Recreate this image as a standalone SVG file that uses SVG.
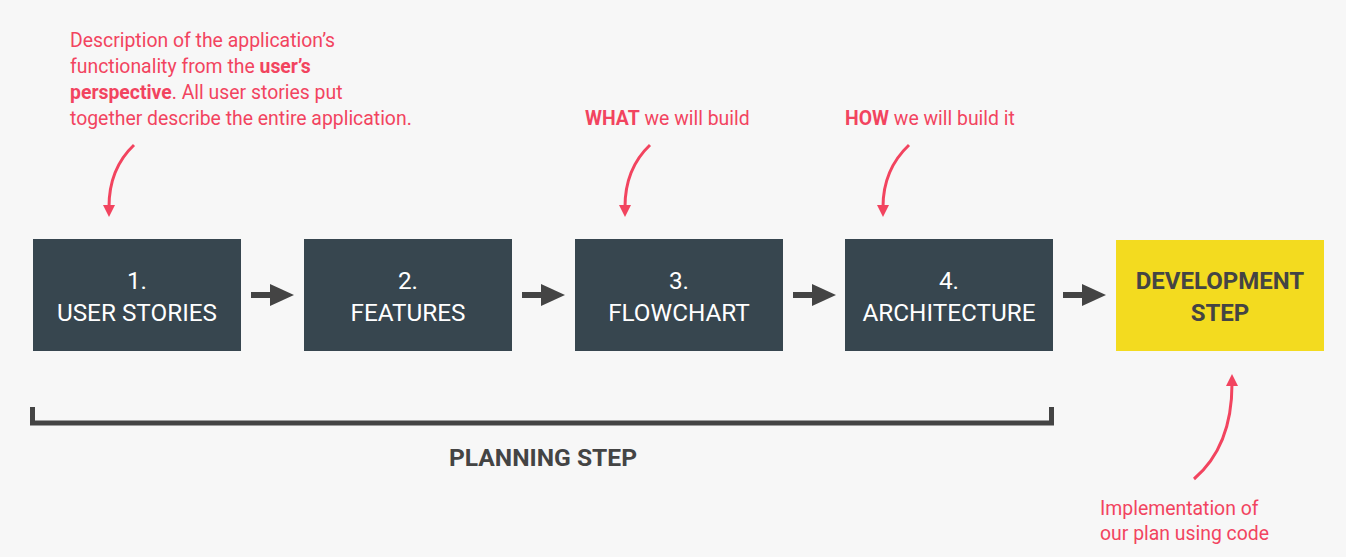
<svg xmlns="http://www.w3.org/2000/svg" width="1346" height="557" viewBox="0 0 1346 557">
<style>
.box{fill:#37464f;}
.bt{font-family:Roboto,"Liberation Sans",sans-serif;font-size:24.3px;fill:#ffffff;text-anchor:middle;}
.dt{font-family:Roboto,"Liberation Sans",sans-serif;font-size:24px;font-weight:bold;fill:#444444;text-anchor:middle;}
.note{font-family:Roboto,"Liberation Sans",sans-serif;font-size:19.4px;fill:#f2445f;}
.b{font-weight:bold;}
.curve{fill:none;stroke:#f2445f;stroke-width:3;}
.head{fill:#f2445f;}
.conn{stroke:#444444;stroke-width:6;fill:none;}
.chead{fill:#444444;}
</style>
<rect width="1346" height="557" fill="#f7f7f7"/>
<g id="note-user-stories">
<text class="note" x="70" y="47">Description of the application’s</text>
<text class="note" x="70" y="73">functionality from the <tspan class="b">user’s</tspan></text>
<text class="note" x="70" y="99"><tspan class="b">perspective</tspan>. All user stories put</text>
<text class="note" x="70" y="125">together describe the entire application.</text>
</g>
<g id="note-what"><text class="note" x="585" y="125"><tspan class="b">WHAT</tspan> we will build</text></g>
<g id="note-how"><text class="note" x="845" y="125"><tspan class="b">HOW</tspan> we will build it</text></g>
<g id="note-dev">
<text class="note" x="1100" y="515">Implementation of</text>
<text class="note" x="1100" y="540">our plan using code</text>
</g>
<g id="node1"><rect class="box" x="33" y="239" width="208" height="112"/><text class="bt" x="137" y="289">1.</text><text class="bt" x="137" y="321">USER STORIES</text></g>
<g id="node2"><rect class="box" x="304" y="239" width="208" height="112"/><text class="bt" x="408" y="289">2.</text><text class="bt" x="408" y="321">FEATURES</text></g>
<g id="node3"><rect class="box" x="575" y="239" width="208" height="112"/><text class="bt" x="679" y="289">3.</text><text class="bt" x="679" y="321">FLOWCHART</text></g>
<g id="node4"><rect class="box" x="845" y="239" width="208" height="112"/><text class="bt" x="949" y="289">4.</text><text class="bt" x="949" y="321">ARCHITECTURE</text></g>
<g id="node5"><rect x="1116" y="240" width="208" height="111" fill="#f3db1f"/><text class="dt" x="1220" y="289">DEVELOPMENT</text><text class="dt" x="1220" y="321">STEP</text></g>
<g id="planning">
<path d="M32.5,407 V423 H1051.5 V407" fill="none" stroke="#444444" stroke-width="5"/>
<text class="dt" x="543" y="466" style="font-size:24.6px">PLANNING STEP</text>
</g>
<g id="connectors">
<line class="conn" x1="251" y1="295" x2="272" y2="295"/><polygon class="chead" points="270,284 294,295 270,306"/>
<line class="conn" x1="522" y1="295" x2="543" y2="295"/><polygon class="chead" points="541,284 565,295 541,306"/>
<line class="conn" x1="793" y1="295" x2="814" y2="295"/><polygon class="chead" points="812,284 836,295 812,306"/>
<line class="conn" x1="1063" y1="295" x2="1084" y2="295"/><polygon class="chead" points="1082,284 1106,295 1082,306"/>
<path class="curve" d="M134,145 C116,162 109,182 109,207"/><polygon class="head" points="103,205 115,205 109,217"/>
<path class="curve" d="M650,145 C632,162 625,182 625,207"/><polygon class="head" points="619,205 631,205 625,217"/>
<path class="curve" d="M909,145 C891,162 883,182 883,207"/><polygon class="head" points="877,205 889,205 883,217"/>
<path class="curve" d="M1194,479 C1222,455 1232,420 1232,384"/><polygon class="head" points="1226,386 1238,386 1232,374"/>
</g>
</svg>
